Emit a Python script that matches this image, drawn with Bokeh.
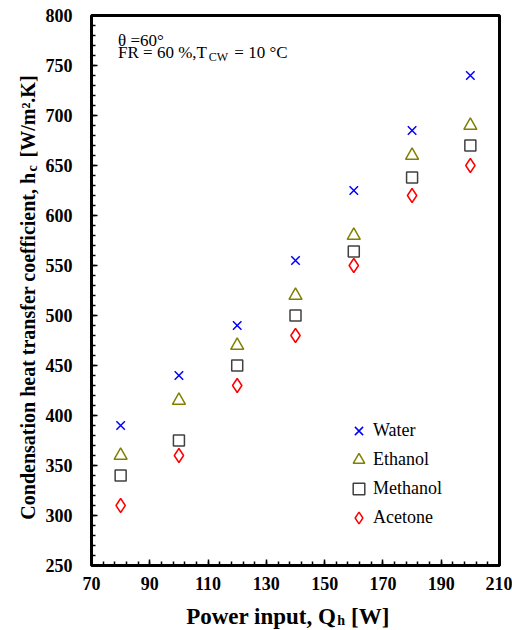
import math
from bokeh.plotting import figure
from bokeh.layouts import row, column
from bokeh.models import (Range1d, FixedTicker, Label, Legend, LegendItem, ColumnDataSource)
from bokeh.embed import file_html
from bokeh.resources import INLINE

# ---- data ----
power = [80, 100, 120, 140, 160, 180, 200]
water = [390, 440, 490, 555, 625, 685, 740]
ethanol = [360, 415, 470, 520, 580, 660, 690]
methanol = [340, 375, 450, 500, 564, 638, 670]
acetone = [310, 360, 430, 480, 550, 620, 650]

x_ticks = [70, 90, 110, 130, 150, 170, 190, 210]
y_ticks = [250, 300, 350, 400, 450, 500, 550, 600, 650, 700, 750, 800]

SERIF = "Liberation Serif"
YL_W = 42      # width of the y-title strip
P_W = 470
P_H = 600
XL_H = 30

# ---- main plot ----
p = figure(width=P_W, height=P_H, x_range=Range1d(70, 210), y_range=Range1d(250, 800),
           output_backend="svg", toolbar_location=None,
           min_border_left=49, min_border_right=13, min_border_top=15, min_border_bottom=35)
p.background_fill_color = "white"
p.border_fill_color = "white"
p.xgrid.visible = False
p.ygrid.visible = False
p.outline_line_color = "black"
p.outline_line_width = 3

p.xaxis.ticker = FixedTicker(ticks=x_ticks, minor_ticks=list(range(70, 211, 4)))
p.yaxis.ticker = FixedTicker(ticks=y_ticks, minor_ticks=list(range(250, 801, 10)))
for ax in (p.xaxis, p.yaxis):
    ax.axis_line_color = None
    ax.major_tick_in = 6
    ax.major_tick_out = 0
    ax.minor_tick_in = 4
    ax.minor_tick_out = 0
    ax.major_tick_line_color = "black"
    ax.minor_tick_line_color = "black"
    ax.major_tick_line_width = 1.5
    ax.minor_tick_line_width = 1.5
    ax.major_label_text_font = SERIF
    ax.major_label_text_font_style = "bold"
    ax.major_label_text_font_size = "18px"
    ax.major_label_text_color = "black"
p.yaxis.major_label_standoff = 19
p.xaxis.major_label_standoff = 11

src = ColumnDataSource(dict(x=power, w=water, e=ethanol, m=methanol, a=acetone))
r_w = p.scatter("x", "w", source=src, marker="x", size=12, line_color="#0000FF", line_width=1.5)
r_e = p.scatter("x", "e", source=src, marker="triangle", size=13, fill_color=None,
                line_color="#808000", line_width=1.5)
r_m = p.scatter("x", "m", source=src, marker="square", size=11, fill_color=None,
                line_color="#404040", line_width=1.5)
r_a = p.scatter("x", "a", source=src, marker="diamond", size=14, fill_color=None,
                line_color="#FF0000", line_width=1.5)

legend = Legend(items=[LegendItem(label="Water", renderers=[r_w]),
                       LegendItem(label="Ethanol", renderers=[r_e]),
                       LegendItem(label="Methanol", renderers=[r_m]),
                       LegendItem(label="Acetone", renderers=[r_a])],
                location=(253, 33), padding=0, margin=0, spacing=0,
                glyph_width=29, glyph_height=29, label_height=29, label_standoff=-4,
                border_line_color=None, background_fill_alpha=0,
                label_text_font=SERIF, label_text_font_size="18px", label_text_color="black")
p.add_layout(legend, "center")


def lab(fig, x, y, text, size, style="normal", align="left", angle=0.0):
    fig.add_layout(Label(x=x, y=y, text=text, text_font=SERIF, text_font_size=size,
                         text_font_style=style, text_align=align, text_baseline="alphabetic",
                         angle=angle, text_color="black"))


# in-plot annotation
lab(p, 79.1, 775, "\u03b8 =60\u00b0", "17px")
lab(p, 79.1, 763, "FR = 60 %,T", "17px")
lab(p, 110.25, 759, "CW", "12px")
lab(p, 119.0, 763, "= 10 \u00b0C", "17px")


def strip(w, h):
    f = figure(width=w, height=h, x_range=Range1d(0, w), y_range=Range1d(0, h),
               x_axis_type=None, y_axis_type=None, output_backend="svg", toolbar_location=None,
               min_border=0, min_border_left=0, min_border_right=0, min_border_top=0,
               min_border_bottom=0)
    f.outline_line_color = None
    f.xgrid.visible = False
    f.ygrid.visible = False
    f.background_fill_color = "white"
    f.border_fill_color = "white"
    return f


# y-axis title strip (pixel coordinates, y upward)
fy = strip(YL_W, P_H + XL_H)
lab(fy, 27, 458, "Condensation heat transfer coefficient, h", "20px", "bold", "right", math.pi / 2)
lab(fy, 31.5, 459, "c", "14px", "bold", "left", math.pi / 2)
lab(fy, 27, 473, "[W/m\u00b2.K]", "20px", "bold", "left", math.pi / 2)

# x-axis title strip
fx = strip(P_W, XL_H)
lab(fx, 282, 14, "Power input, Q", "23px", "bold", "right")
lab(fx, 283, 10, "h", "14px", "bold")
lab(fx, 299, 14, "[W]", "23px", "bold")

layout = row(fy, column(p, fx, spacing=0), spacing=0)
open("out.html", "w").write(file_html(layout, INLINE))
